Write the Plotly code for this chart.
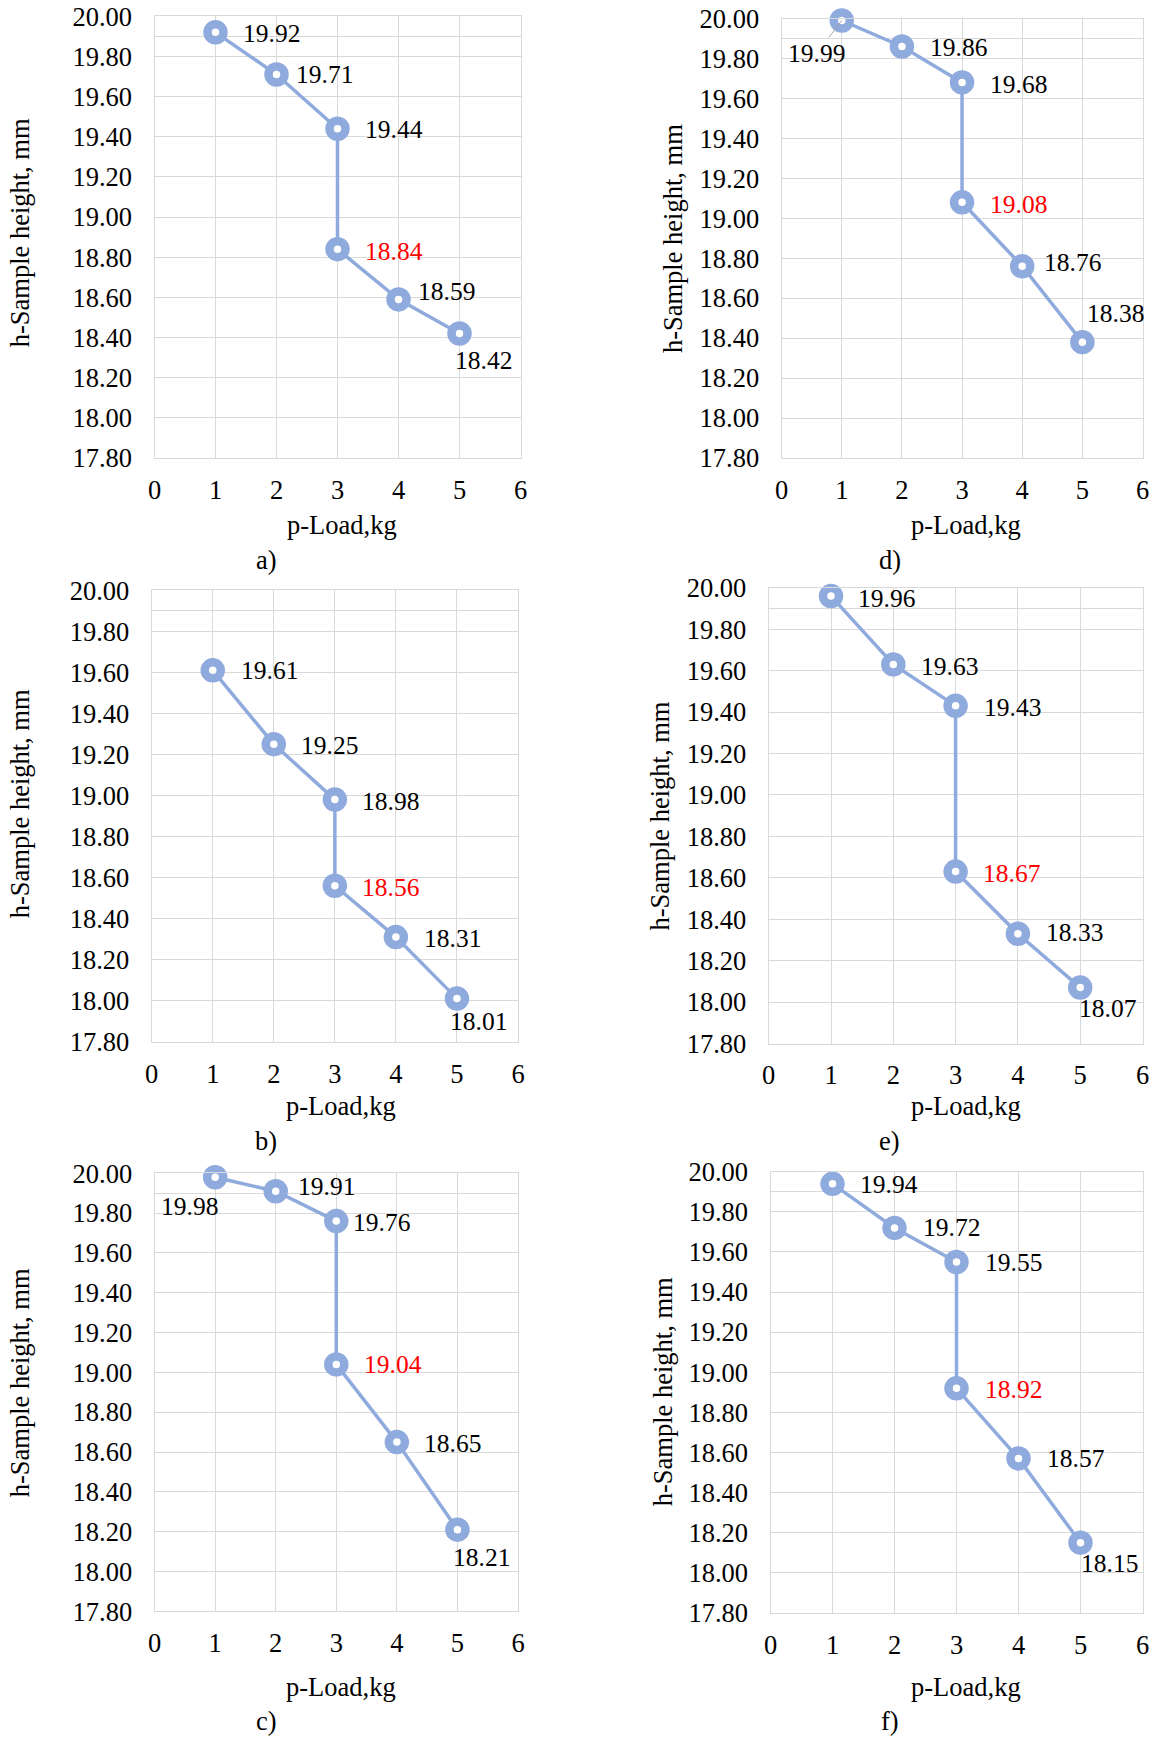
import plotly.graph_objects as go

W, H = 1158, 1737
FONT = "Liberation Serif, Times New Roman, serif"
BLUE = "#8FAADC"
GRID = "#D9D9D9"

# ---------------- data ----------------
load_kg = [1, 2, 3, 3, 4, 5]
h_a = [19.92, 19.71, 19.44, 18.84, 18.59, 18.42]
h_b = [19.61, 19.25, 18.98, 18.56, 18.31, 18.01]
h_c = [19.98, 19.91, 19.76, 19.04, 18.65, 18.21]
h_d = [19.99, 19.86, 19.68, 19.08, 18.76, 18.38]
h_e = [19.96, 19.63, 19.43, 18.63, 18.33, 18.07]
h_f = [19.94, 19.72, 19.55, 18.92, 18.57, 18.15]
labels_e = ["19.96", "19.63", "19.43", "18.67", "18.33", "18.07"]
red_index = 3
y_ticks = [17.8, 18.0, 18.2, 18.4, 18.6, 18.8, 19.0, 19.2, 19.4, 19.6, 19.8, 20.0]
x_ticks = [0, 1, 2, 3, 4, 5, 6]
panel_names = ["a)", "b)", "c)", "d)", "e)", "f)"]
x_title = "p-Load,kg"
y_title = "h-Sample height, mm"

series = {
    "a)": (h_a, [f"{v:.2f}" for v in h_a]),
    "b)": (h_b, [f"{v:.2f}" for v in h_b]),
    "c)": (h_c, [f"{v:.2f}" for v in h_c]),
    "d)": (h_d, [f"{v:.2f}" for v in h_d]),
    "e)": (h_e, labels_e),
    "f)": (h_f, [f"{v:.2f}" for v in h_f]),
}

# ---------------- layout (pixel boxes) ----------------
boxes = {
    "a)": (154.5, 520.5, 16.3, 458.0),
    "b)": (151.7, 518.0, 590.3, 1041.7),
    "c)": (154.6, 518.0, 1173.3, 1611.3),
    "d)": (781.6, 1142.5, 18.5, 458.0),
    "e)": (768.7, 1142.5, 587.8, 1043.5),
    "f)": (770.5, 1142.5, 1171.8, 1612.8),
}
xtitle_pos = {"a)": (341.6, 525), "b)": (341, 1106.4), "c)": (341, 1686.8),
              "d)": (965.7, 525.3), "e)": (965.7, 1106.4), "f)": (965.7, 1686.8)}
ytitle_pos = {"a)": (20.3, 233), "b)": (20.3, 804), "c)": (20.3, 1383),
              "d)": (672.5, 238.6), "e)": (659.5, 816), "f)": (663.2, 1392)}
caption_pos = {"a)": (266, 559.6), "b)": (266, 1141), "c)": (266, 1721),
               "d)": (889.8, 559.6), "e)": (889.8, 1141), "f)": (889.8, 1721)}
label_off = {
    "a)": [("l", 25, 1.5), ("l", 17.5, -0.5), ("l", 25, 1), ("l", 25, 2.4), ("l", 17.7, -8), ("c", 24, 27)],
    "b)": [("l", 26, 0.3), ("l", 25, 1.5), ("l", 25, 1.6), ("l", 25, 1.6), ("l", 26, 1), ("c", 21.4, 23)],
    "c)": [("c", -25.6, 29.7), ("l", 20, -5), ("l", 14.4, 1.8), ("l", 25.5, 0), ("l", 25.6, 1.7), ("c", 24, 27.6)],
    "d)": [("arrow", -25, 33), ("l", 26, 1), ("l", 26, 2), ("l", 26, 2), ("l", 20, -4), ("c", 33, -28.5)],
    "e)": [("l", 24.6, 2.8), ("l", 26, 1.8), ("l", 26, 1.8), ("l", 25.4, 1.6), ("l", 26, -1.4), ("c", 27.5, 21)],
    "f)": [("l", 25.7, 0.9), ("l", 26, 0), ("l", 26, 0.4), ("l", 26, 1), ("l", 26, 0), ("c", 29, 20.6)],
}

fig = go.Figure()
annotations = []
layout_axes = {}

for i, name in enumerate(panel_names, start=1):
    vals, texts = series[name]
    l, r, t, b = boxes[name]
    xa = "x" if i == 1 else f"x{i}"
    ya = "y" if i == 1 else f"y{i}"
    xkey = "xaxis" if i == 1 else f"xaxis{i}"
    ykey = "yaxis" if i == 1 else f"yaxis{i}"

    fig.add_trace(go.Scatter(
        x=load_kg, y=vals, mode="lines+markers", xaxis=xa, yaxis=ya,
        line=dict(color=BLUE, width=3.5),
        marker=dict(symbol="circle", size=16, color="white", line=dict(color=BLUE, width=8.5)),
        showlegend=False, hoverinfo="x+y", cliponaxis=False,
    ))

    layout_axes[xkey] = dict(
        domain=[l / W, r / W], anchor=ya, range=[0, 6], tickvals=x_ticks,
        showgrid=True, gridcolor=GRID, gridwidth=1.3, zeroline=False,
        showline=True, linecolor=GRID, linewidth=1.3, mirror=True,
        ticks="", ticklabelstandoff=8, automargin=False,
        tickfont=dict(family=FONT, size=26.5, color="black"), fixedrange=True,
    )
    layout_axes[ykey] = dict(
        domain=[1 - b / H, 1 - t / H], anchor=xa, range=[17.8, 20.0], tickvals=y_ticks,
        tickformat=".2f",
        showgrid=True, gridcolor=GRID, gridwidth=1.3, zeroline=False,
        showline=True, linecolor=GRID, linewidth=1.3, mirror=True,
        ticks="", ticklabelstandoff=16, automargin=False,
        minor=dict(tickmode="array", tickvals=[19.9], showgrid=True, gridcolor=GRID, gridwidth=1.3),
        tickfont=dict(family=FONT, size=26.5, color="black"), fixedrange=True,
    )

    for j, (xv, yv, tx) in enumerate(zip(load_kg, vals, texts)):
        kind, dx, dy = label_off[name][j]
        col = "red" if j == red_index else "black"
        if kind == "arrow":
            annotations.append(dict(
                x=xv, y=yv, xref=xa, yref=ya, text=tx, showarrow=True,
                ax=dx, ay=dy, arrowhead=0, arrowwidth=1, arrowcolor="#A6A6A6", standoff=0,
                font=dict(family=FONT, size=25.5, color=col),
            ))
        else:
            annotations.append(dict(
                x=xv, y=yv, xref=xa, yref=ya, text=tx, showarrow=False,
                xanchor="left" if kind == "l" else "center", yanchor="middle",
                xshift=dx, yshift=-dy,
                font=dict(family=FONT, size=25.5, color=col),
            ))

    xt = xtitle_pos[name]
    annotations.append(dict(x=xt[0] / W, y=1 - xt[1] / H, xref="paper", yref="paper",
                            text=x_title, showarrow=False, xanchor="center", yanchor="middle",
                            font=dict(family=FONT, size=26.5, color="black")))
    yt = ytitle_pos[name]
    annotations.append(dict(x=yt[0] / W, y=1 - yt[1] / H, xref="paper", yref="paper",
                            text=y_title, showarrow=False, xanchor="center", yanchor="middle",
                            textangle=-90, font=dict(family=FONT, size=26.5, color="black")))
    cp = caption_pos[name]
    annotations.append(dict(x=cp[0] / W, y=1 - cp[1] / H, xref="paper", yref="paper",
                            text=name, showarrow=False, xanchor="center", yanchor="middle",
                            font=dict(family=FONT, size=26.5, color="black")))

fig.update_layout(
    width=W, height=H, margin=dict(l=0, r=0, t=0, b=0, autoexpand=False),
    paper_bgcolor="white", plot_bgcolor="white",
    annotations=annotations, **layout_axes,
)

fig.write_html(
    "out.html",
    config={"displayModeBar": False},
    post_script="document.body.style.margin='0px';document.body.style.padding='0px';",
)
